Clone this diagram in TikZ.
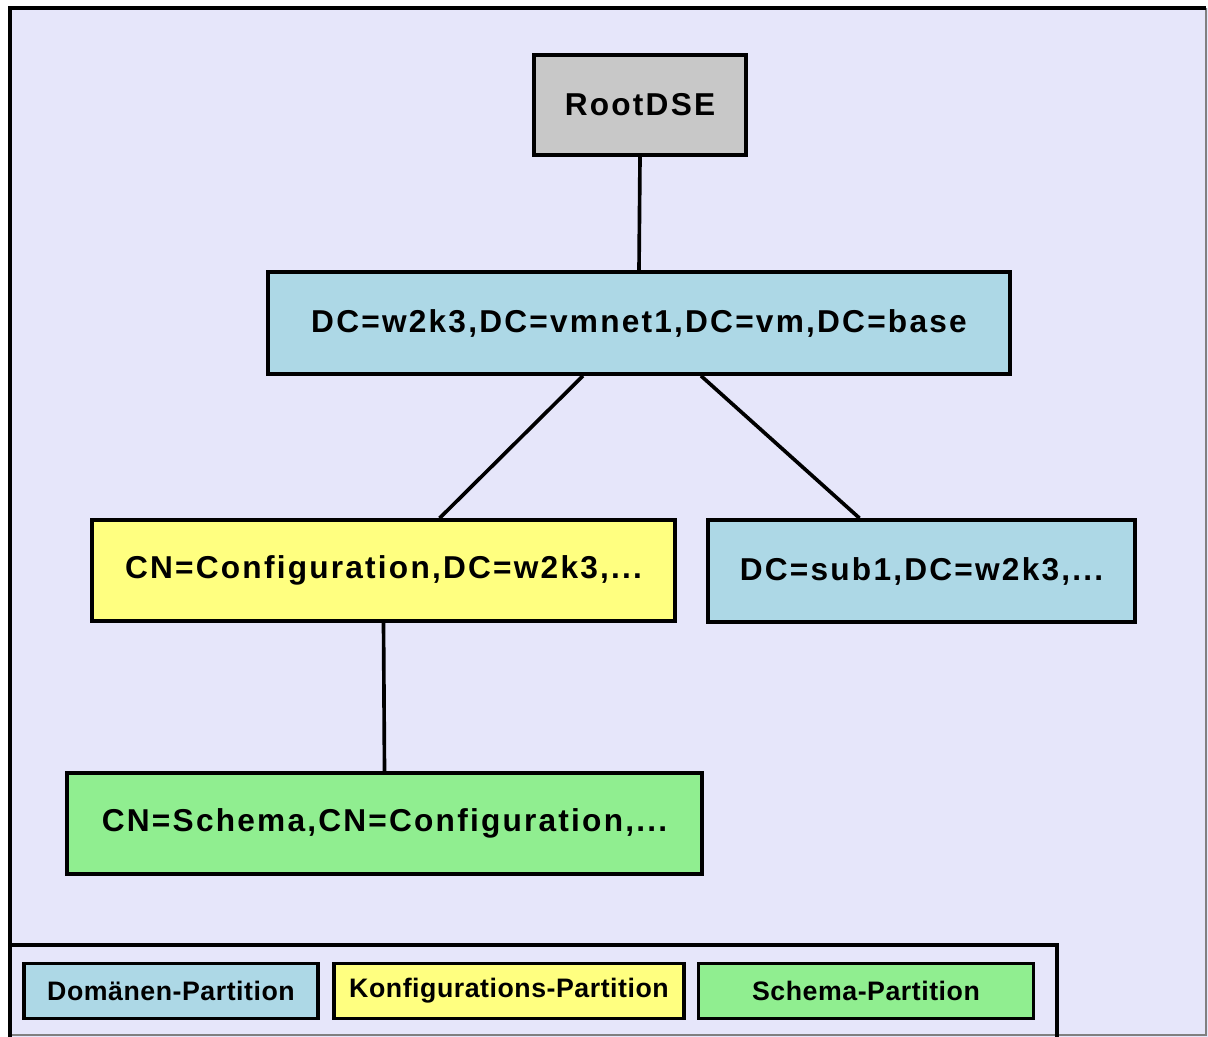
\documentclass[tikz,border=0pt]{standalone}
\usepackage{fontspec}
\setmainfont{Liberation Sans}
\usetikzlibrary{positioning}
\definecolor{framebg}{RGB}{230,230,250}
\definecolor{rootgray}{RGB}{200,200,200}
\definecolor{domblue}{RGB}{173,216,230}
\definecolor{confyellow}{RGB}{255,255,128}
\definecolor{schemagreen}{RGB}{144,238,144}
\tikzset{part/.style = {draw, line width=2.6pt, inner sep=0pt,
                        font=\bfseries\fontsize{22.5}{26}\selectfont\addfontfeatures{LetterSpace=7}},
         legend/.style = {part, minimum height=1.38cm,
                          font=\bfseries\fontsize{19}{22}\selectfont\addfontfeatures{LetterSpace=2}},
         link/.style = {line width=2.6pt}}

\begin{document}
\begin{tikzpicture}[x=0.025cm, y=-0.025cm]
      \useasboundingbox (0, 0) rectangle (1208, 1037);
      \fill [framebg] (10, 8) rectangle (1208, 1037);
      \draw [gray, line width=0.8pt] (1206, 8) -- (1206, 1035) -- (10, 1035);
      \draw [line width=3pt] (10, 1037) -- (10, 8) -- (1206, 8);
      \draw [line width=2.6pt] (10, 945) -- (1057, 945) -- (1057, 1037);

      \node [part, fill=rootgray, minimum width=5.3cm, minimum height=2.5cm] (root) at (640, 105) {RootDSE};
      \node [part, fill=domblue, minimum width=18.55cm, minimum height=2.55cm] (dc) at (639, 323) {DC=w2k3,DC=vmnet1,DC=vm,DC=base};
      \node [part, fill=confyellow, minimum width=14.57cm, minimum height=2.52cm] (conf) at (383.5, 570.5) {CN=Configuration,DC=w2k3,...};
      \node [part, fill=domblue, minimum width=10.67cm, minimum height=2.55cm] (sub) at (921.5, 571) {DC=sub1,DC=w2k3,...};
      \node [part, fill=schemagreen, minimum width=15.87cm, minimum height=2.52cm] (schema) at (384.5, 823.5) {CN=Schema,CN=Configuration,...};

      \draw [link] (root.south) -- (dc.north);
      \draw [link] ([xshift=-1.4cm]dc.south) -- ([xshift=1.4cm]conf.north);
      \draw [link] ([xshift=1.55cm]dc.south) -- ([xshift=-1.55cm]sub.north);
      \draw [link] (conf.south) -- (schema.north);

      % legend
      \foreach \x/\w/\c/\t in {171/7.35/domblue/Domänen-Partition,
                               509/8.75/confyellow/Konfigurations-Partition,
                               866/8.37/schemagreen/Schema-Partition} {
        \node [legend, fill=\c, minimum width=\w cm] (leg-\c) at (\x, 991) {\t};
      }
    \end{tikzpicture}
\end{document}
